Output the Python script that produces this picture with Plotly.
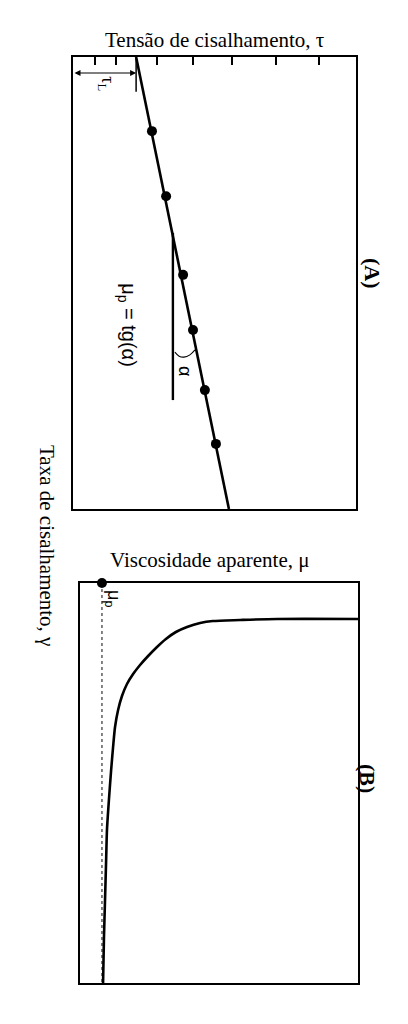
import plotly.graph_objects as go

# page body has an 8px default margin; figure placed at (8, 8)
OFF = 8
W, H = 408 - 2 * OFF, 1024 - 2 * OFF

# ---- Panel A data: shear stress (tau) vs shear rate (gamma), Bingham fluid
gamma_pts = [1.64, 3.08, 4.82, 6.04, 7.37, 8.56]
tau_pts = [2.79, 3.29, 3.89, 4.24, 4.66, 5.05]
gamma_fit = [0.0, 10.0]
tau_fit = [2.23, 5.51]
tau_L = 2.23
tau_ticks = [0.78, 1.52, 2.97, 4.24, 5.62, 7.17, 8.69]
ref_tau = [3.53, 3.53]
ref_gamma = [3.89, 7.59]
arc_tau = [3.60, 3.75, 3.92, 4.13, 4.31]
arc_gamma = [6.53, 6.62, 6.64, 6.59, 6.48]

# ---- Panel B data: apparent viscosity (mu) vs shear rate (gamma)
mu_curve = [10.0, 7.09, 5.76, 4.78, 4.32, 3.85, 3.45, 3.09, 2.77, 2.45, 2.16,
            1.91, 1.69, 1.51, 1.37, 1.26, 1.19, 1.12, 1.04, 0.97, 0.94, 0.90,
            0.86, 0.83]
gamma_curve = [0.90, 0.90, 0.925, 0.95, 1.00, 1.10, 1.225, 1.40, 1.60, 1.825,
               2.05, 2.275, 2.525, 2.825, 3.175, 3.60, 4.10, 4.675, 5.425,
               6.175, 6.925, 7.925, 8.925, 10.0]
mu_p = 0.79

SERIF = "Liberation Serif, Times New Roman, serif"
SANS = "Liberation Sans, Arial, sans-serif"


def px(x):
    return (x - OFF) / W


def py(y):
    return 1 - (y - OFF) / H


fig = go.Figure()

# Panel A
fig.add_trace(go.Scatter(x=tau_fit, y=gamma_fit, mode="lines",
                         line=dict(color="black", width=2.6),
                         xaxis="x", yaxis="y", showlegend=False, cliponaxis=False))
fig.add_trace(go.Scatter(x=tau_pts, y=gamma_pts, mode="markers",
                         marker=dict(color="black", size=10),
                         xaxis="x", yaxis="y", showlegend=False))
fig.add_trace(go.Scatter(x=ref_tau, y=ref_gamma, mode="lines",
                         line=dict(color="black", width=2.4),
                         xaxis="x", yaxis="y", showlegend=False))
fig.add_trace(go.Scatter(x=arc_tau, y=arc_gamma, mode="lines",
                         line=dict(color="black", width=1.1, shape="spline"),
                         xaxis="x", yaxis="y", showlegend=False))
fig.add_trace(go.Scatter(x=[tau_L, tau_L], y=[0, 0.77], mode="lines",
                         line=dict(color="black", width=1.5),
                         xaxis="x", yaxis="y", showlegend=False))

# Panel B
fig.add_trace(go.Scatter(x=[mu_p, mu_p], y=[0, 10], mode="lines",
                         line=dict(color="#333333", width=1.2, dash="dot"),
                         xaxis="x2", yaxis="y2", showlegend=False))
fig.add_trace(go.Scatter(x=mu_curve, y=gamma_curve, mode="lines",
                         line=dict(color="black", width=2.6, shape="spline", smoothing=0.7),
                         xaxis="x2", yaxis="y2", showlegend=False))
fig.add_trace(go.Scatter(x=[mu_p], y=[0], mode="markers",
                         marker=dict(color="black", size=10),
                         xaxis="x2", yaxis="y2", showlegend=False, cliponaxis=False))

box = dict(showline=True, linecolor="black", linewidth=1.6, mirror=True,
           showgrid=False, zeroline=False, showticklabels=False)

fig.update_layout(
    width=W, height=H, margin=dict(l=0, r=0, t=0, b=0),
    paper_bgcolor="white", plot_bgcolor="white",
    xaxis=dict(domain=[px(73), px(356)], range=[0, 10], side="top",
               ticks="inside", tickvals=tau_ticks, ticklen=8, tickwidth=1.6,
               tickcolor="black", anchor="y", **box),
    yaxis=dict(domain=[py(509), py(57)], range=[10, 0], ticks="", anchor="x", **box),
    xaxis2=dict(domain=[px(80), px(358)], range=[0, 10], ticks="", anchor="y2", **box),
    yaxis2=dict(domain=[py(983), py(583)], range=[10, 0], ticks="", anchor="x2", **box),
)

C = dict(xanchor="center", yanchor="middle", showarrow=False)
ann = []
# tau_L double arrow
ann.append(dict(x=tau_L, y=0.354, ax=0, ay=0.354, xref="x", yref="y",
                axref="x", ayref="y", text="", showarrow=True,
                arrowhead=2, startarrowhead=2, arrowside="end+start",
                arrowsize=1, arrowwidth=1.2, arrowcolor="black"))
ann.append(dict(x=1.2, y=0.6, xref="x", yref="y", text="τ<sub>L</sub>",
                textangle=90, font=dict(family=SERIF, size=18, color="black"), **C))
ann.append(dict(x=3.96, y=6.95, xref="x", yref="y", text="α",
                textangle=90, font=dict(family=SANS, size=18, color="black"), **C))
ann.append(dict(x=1.94, y=5.93, xref="x", yref="y", text="μ<sub>p</sub> = tg(α)",
                textangle=90, font=dict(family=SANS, size=20, color="black"), **C))
ann.append(dict(x=1.19, y=0.38, xref="x2", yref="y2", text="μ<sub>p</sub>",
                textangle=90, font=dict(family=SANS, size=18, color="black"), **C))
# titles and labels
ann.append(dict(x=px(215), y=py(40), xref="paper", yref="paper",
                text="Tensão de cisalhamento, τ",
                font=dict(family=SERIF, size=21, color="black"), **C))
ann.append(dict(x=px(210), y=py(560), xref="paper", yref="paper",
                text="Viscosidade aparente, μ",
                font=dict(family=SERIF, size=21, color="black"), **C))
ann.append(dict(x=px(47), y=py(545), xref="paper", yref="paper",
                text="Taxa de cisalhamento, γ", textangle=90,
                font=dict(family=SERIF, size=21, color="black"), **C))
ann.append(dict(x=px(372), y=py(273), xref="paper", yref="paper",
                text="<b>(A)</b>", textangle=90,
                font=dict(family=SERIF, size=22, color="black"), **C))
ann.append(dict(x=px(368), y=py(778), xref="paper", yref="paper",
                text="<b>(B)</b>", textangle=90,
                font=dict(family=SERIF, size=22, color="black"), **C))
fig.update_layout(annotations=ann)

fig.write_html("out.html")
